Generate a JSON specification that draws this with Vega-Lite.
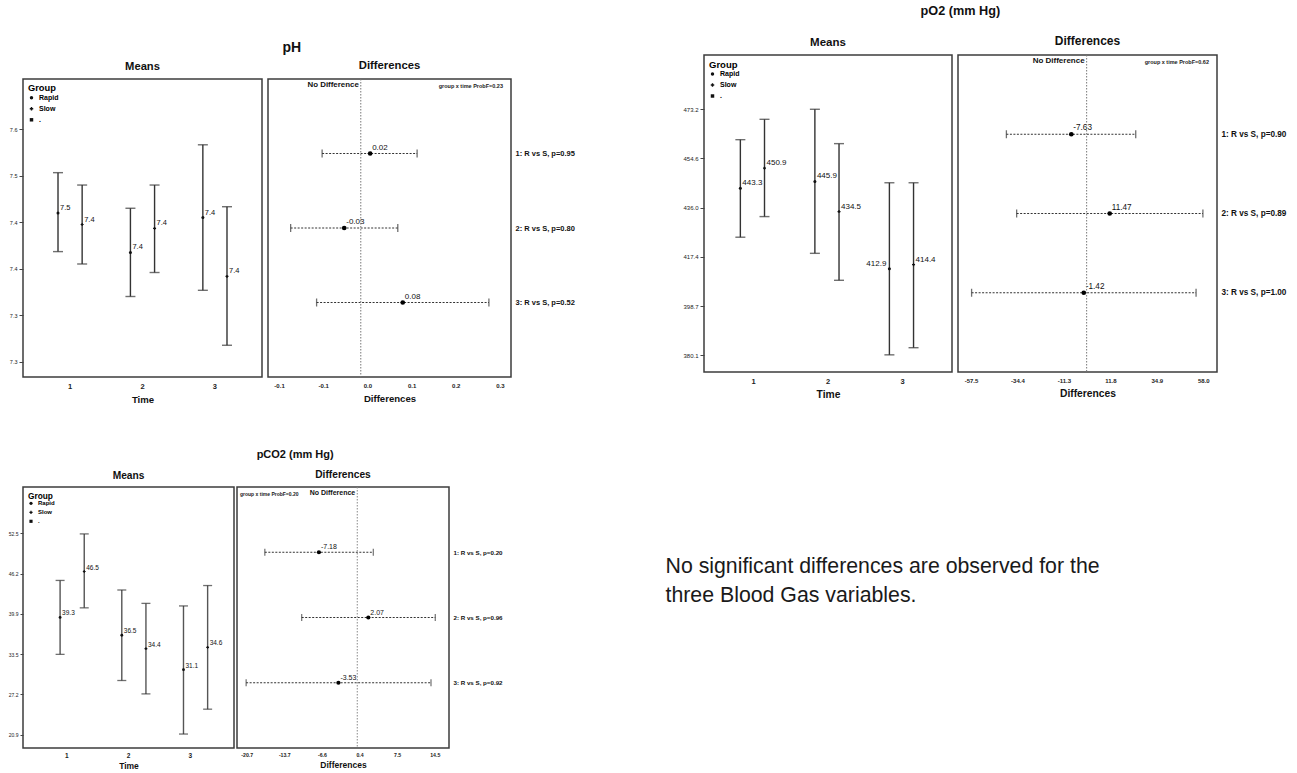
{
  "$schema": "https://vega.github.io/schema/vega-lite/v6.json",
  "padding": {"left": 7, "top": 5, "right": 0, "bottom": 0},
  "background": "white",
  "datasets": {
    "ph_means": [
      {"Time": 1, "Group": "Rapid", "mean": 7.452, "lower": 7.402, "upper": 7.504},
      {"Time": 1, "Group": "Slow", "mean": 7.437, "lower": 7.386, "upper": 7.488},
      {"Time": 2, "Group": "Rapid", "mean": 7.401, "lower": 7.344, "upper": 7.458},
      {"Time": 2, "Group": "Slow", "mean": 7.432, "lower": 7.375, "upper": 7.488},
      {"Time": 3, "Group": "Rapid", "mean": 7.446, "lower": 7.352, "upper": 7.54},
      {"Time": 3, "Group": "Slow", "mean": 7.37, "lower": 7.281, "upper": 7.46}
    ],
    "ph_diff": [
      {"Time": 1, "Comparison": "1: R vs S, p=0.95", "diff": 0.017, "lower": -0.07, "upper": 0.102},
      {"Time": 2, "Comparison": "2: R vs S, p=0.80", "diff": -0.03, "lower": -0.127, "upper": 0.067},
      {"Time": 3, "Comparison": "3: R vs S, p=0.52", "diff": 0.076, "lower": -0.08, "upper": 0.232}
    ],
    "po2_means": [
      {"Time": 1, "Group": "Rapid", "mean": 443.3, "lower": 424.8, "upper": 461.7},
      {"Time": 1, "Group": "Slow", "mean": 450.9, "lower": 432.6, "upper": 469.4},
      {"Time": 2, "Group": "Rapid", "mean": 445.9, "lower": 418.7, "upper": 473.2},
      {"Time": 2, "Group": "Slow", "mean": 434.5, "lower": 408.5, "upper": 460.2},
      {"Time": 3, "Group": "Rapid", "mean": 412.9, "lower": 380.3, "upper": 445.4},
      {"Time": 3, "Group": "Slow", "mean": 414.4, "lower": 383.0, "upper": 445.4}
    ],
    "po2_diff": [
      {"Time": 1, "Comparison": "1: R vs S, p=0.90", "diff": -7.63, "lower": -39.9, "upper": 24.4},
      {"Time": 2, "Comparison": "2: R vs S, p=0.89", "diff": 11.47, "lower": -34.8, "upper": 57.8},
      {"Time": 3, "Comparison": "3: R vs S, p=1.00", "diff": -1.42, "lower": -57.2, "upper": 54.4}
    ],
    "pco2_means": [
      {"Time": 1, "Group": "Rapid", "mean": 39.3, "lower": 33.5, "upper": 45.1},
      {"Time": 1, "Group": "Slow", "mean": 46.5, "lower": 40.8, "upper": 52.4},
      {"Time": 2, "Group": "Rapid", "mean": 36.5, "lower": 29.4, "upper": 43.6},
      {"Time": 2, "Group": "Slow", "mean": 34.4, "lower": 27.3, "upper": 41.5},
      {"Time": 3, "Group": "Rapid", "mean": 31.1, "lower": 21.0, "upper": 41.1},
      {"Time": 3, "Group": "Slow", "mean": 34.6, "lower": 24.9, "upper": 44.3}
    ],
    "pco2_diff": [
      {"Time": 1, "Comparison": "1: R vs S, p=0.20", "diff": -7.18, "lower": -17.3, "upper": 3.0},
      {"Time": 2, "Comparison": "2: R vs S, p=0.96", "diff": 2.07, "lower": -10.4, "upper": 14.6},
      {"Time": 3, "Comparison": "3: R vs S, p=0.92", "diff": -3.53, "lower": -20.8, "upper": 13.8}
    ]
  },
  "spacing": 43,
  "resolve": {"scale": {"shape": "independent"}, "legend": {"shape": "independent"}},
  "vconcat": [
    {
      "spacing": 106,
      "resolve": {"scale": {"shape": "independent"}, "legend": {"shape": "independent"}},
      "hconcat": [
        {
          "spacing": -15,
          "resolve": {"scale": {"shape": "independent"}, "legend": {"shape": "independent"}},
          "vconcat": [
            {"width": 1, "height": 1, "view": {"stroke": null}, "data": {"values": []}, "mark": "point"},
            {
              "title": {"text": "pH", "anchor": "middle", "fontSize": 14, "offset": 4},
              "spacing": 4,
              "resolve": {"scale": {"shape": "independent"}, "legend": {"shape": "independent"}},
              "hconcat": [
                {
                  "width": 239, "height": 298,
                  "title": {"text": "Means", "fontSize": 11.2, "frame": "group", "offset": 7},
                  "data": {"name": "ph_means"},
                  "encoding": {
                    "x": {"field": "Time", "type": "ordinal", "scale": {"paddingInner": 0, "paddingOuter": 0.15},
                      "axis": {"title": "Time", "labelAngle": 0, "ticks": false, "tickSize": 0, "labelFontSize": 7.5, "labelFontWeight": "bold", "labelPadding": 5, "titleFontSize": 9.6, "titleFontWeight": "bold", "titlePadding": 5}},
                    "xOffset": {"field": "Group", "type": "nominal", "scale": {"type": "point", "padding": 1.17, "domain": ["Rapid", "Slow"]}}
                  },
                  "layer": [
                    {"mark": {"type": "rule", "color": "#333", "strokeWidth": 1.4},
                      "encoding": {"y": {"field": "lower", "type": "quantitative", "scale": {"domain": [7.24, 7.625], "zero": false, "nice": false},
                        "axis": {"title": null, "values": [7.26, 7.32, 7.38, 7.44, 7.5, 7.56], "format": ".1f", "labelFontSize": 5.5, "tickSize": 4, "labelPadding": 2}},
                        "y2": {"field": "upper"}}},
                    {"mark": {"type": "tick", "color": "#333", "thickness": 1.4, "size": 10}, "encoding": {"y": {"field": "lower", "type": "quantitative"}}},
                    {"mark": {"type": "tick", "color": "#333", "thickness": 1.4, "size": 10}, "encoding": {"y": {"field": "upper", "type": "quantitative"}}},
                    {"mark": {"type": "point", "filled": true, "size": 9, "color": "#111", "opacity": 1},
                      "encoding": {"y": {"field": "mean", "type": "quantitative"},
                        "shape": {"field": "Group", "type": "nominal", "scale": {"domain": ["Rapid", "Slow", "."], "range": ["circle", "cross", "square"]},
                          "legend": {"title": "Group", "orient": "top-left", "offset": 5, "titleFontSize": 9.3, "titleFontWeight": "bold", "titlePadding": 1, "labelFontSize": 7, "labelFontWeight": "bold", "symbolSize": 12, "symbolStrokeWidth": 1, "rowPadding": 2, "padding": 0}}}},
                    {"mark": {"type": "text", "align": "left", "baseline": "middle", "dx": 2, "dy": -5, "fontSize": 7.5, "color": "#111"},
                      "encoding": {"y": {"field": "mean", "type": "quantitative"}, "text": {"field": "mean", "type": "quantitative", "format": ".1f"}}}
                  ]
                },
                {
                  "width": 243, "height": 298,
                  "title": {"text": "Differences", "fontSize": 11.3, "frame": "group", "offset": 7},
                  "resolve": {"scale": {"y": "independent"}},
                  "layer": [
                    {
                      "data": {"name": "ph_diff"},
                      "encoding": {"y": {"field": "Comparison", "type": "nominal", "scale": {"type": "point", "padding": 1.5},
                        "axis": {"orient": "right", "title": null, "ticks": false, "tickSize": 0, "labelFontSize": 7.5, "labelFontWeight": "bold", "labelPadding": 4, "labelColor": "#111"}}},
                      "layer": [
                        {"mark": {"type": "rule", "strokeDash": [2, 1.5], "color": "#333", "strokeWidth": 1},
                          "encoding": {"x": {"field": "lower", "type": "quantitative", "scale": {"domain": [-0.168, 0.272], "zero": false, "nice": false},
                            "axis": {"title": "Differences", "values": [-0.148, -0.068, 0.012, 0.092, 0.172, 0.252], "format": ".1f", "ticks": false, "tickSize": 0, "labelFontSize": 6, "labelFontWeight": "bold", "labelPadding": 5, "titleFontSize": 9.6, "titleFontWeight": "bold", "titlePadding": 5}},
                            "x2": {"field": "upper"}}},
                        {"mark": {"type": "tick", "color": "#333", "thickness": 1.3, "size": 8}, "encoding": {"x": {"field": "lower", "type": "quantitative"}}},
                        {"mark": {"type": "tick", "color": "#333", "thickness": 1.3, "size": 8}, "encoding": {"x": {"field": "upper", "type": "quantitative"}}},
                        {"mark": {"type": "point", "filled": true, "size": 22, "color": "#000", "opacity": 1}, "encoding": {"x": {"field": "diff", "type": "quantitative"}}},
                        {"mark": {"type": "text", "align": "left", "baseline": "middle", "dx": 2, "dy": -6, "fontSize": 8, "color": "#111"},
                          "encoding": {"x": {"field": "diff", "type": "quantitative"}, "text": {"field": "diff", "type": "quantitative", "format": ".2f"}}}
                      ]
                    },
                    {
                      "data": {"values": [{"label": "No Difference", "diff": 0}]},
                      "layer": [
                        {"mark": {"type": "rule", "strokeDash": [1.5, 1.5], "color": "#777", "strokeWidth": 1}, "encoding": {"x": {"field": "diff", "type": "quantitative"}}},
                        {"mark": {"type": "text", "align": "right", "baseline": "top", "dx": -2, "dy": 2, "fontSize": 7.9, "fontWeight": "bold", "color": "#111"},
                          "encoding": {"x": {"field": "diff", "type": "quantitative"}, "y": {"datum": 1, "type": "quantitative", "scale": {"domain": [0, 1]}, "axis": null}, "text": {"field": "label"}}}
                      ]
                    },
                    {
                      "data": {"values": [{"label": "group x time ProbF=0.23"}]},
                      "mark": {"type": "text", "align": "right", "baseline": "top", "dx": -8, "dy": 5, "fontSize": 5.5, "fontWeight": "bold", "color": "#222"},
                      "encoding": {"x": {"datum": 0.272, "type": "quantitative"}, "y": {"datum": 1, "type": "quantitative", "scale": {"domain": [0, 1]}, "axis": null}, "text": {"field": "label"}}
                    }
                  ]
                }
              ]
            }
          ]
        },
        {
          "title": {"text": "pO2 (mm Hg)", "anchor": "middle", "fontSize": 12.7, "offset": 16, "dx": -24},
          "spacing": 4,
          "resolve": {"scale": {"shape": "independent"}, "legend": {"shape": "independent"}},
          "hconcat": [
            {
              "width": 248, "height": 317,
              "title": {"text": "Means", "fontSize": 11.5, "frame": "group", "offset": 7},
              "data": {"name": "po2_means"},
              "encoding": {
                "x": {"field": "Time", "type": "ordinal", "scale": {"paddingInner": 0, "paddingOuter": 0.164},
                  "axis": {"title": "Time", "labelAngle": 0, "ticks": false, "tickSize": 0, "labelFontSize": 7.5, "labelFontWeight": "bold", "labelPadding": 5, "titleFontSize": 10.3, "titleFontWeight": "bold", "titlePadding": 5}},
                "xOffset": {"field": "Group", "type": "nominal", "scale": {"type": "point", "padding": 1.19, "domain": ["Rapid", "Slow"]}}
              },
              "layer": [
                {"mark": {"type": "rule", "color": "#333", "strokeWidth": 1.4},
                  "encoding": {"y": {"field": "lower", "type": "quantitative", "scale": {"domain": [373.81, 493.73], "zero": false, "nice": false},
                    "axis": {"title": null, "values": [380.13, 398.742, 417.354, 435.966, 454.578, 473.19], "format": ".1f", "labelFontSize": 6, "tickSize": 4, "labelPadding": 2}},
                    "y2": {"field": "upper"}}},
                {"mark": {"type": "tick", "color": "#333", "thickness": 1.4, "size": 10}, "encoding": {"y": {"field": "lower", "type": "quantitative"}}},
                {"mark": {"type": "tick", "color": "#333", "thickness": 1.4, "size": 10}, "encoding": {"y": {"field": "upper", "type": "quantitative"}}},
                {"mark": {"type": "point", "filled": true, "size": 9, "color": "#111", "opacity": 1},
                  "encoding": {"y": {"field": "mean", "type": "quantitative"},
                    "shape": {"field": "Group", "type": "nominal", "scale": {"domain": ["Rapid", "Slow", "."], "range": ["circle", "cross", "square"]},
                      "legend": {"title": "Group", "orient": "top-left", "offset": 5, "titleFontSize": 9.5, "titleFontWeight": "bold", "titlePadding": 1, "labelFontSize": 7, "labelFontWeight": "bold", "symbolSize": 12, "symbolStrokeWidth": 1, "rowPadding": 2, "padding": 0}}}},
                {"transform": [{"filter": "!(datum.Time == 3 && datum.Group == 'Rapid')"}],
                  "mark": {"type": "text", "align": "left", "baseline": "middle", "dx": 2, "dy": -5, "fontSize": 8, "color": "#111"},
                  "encoding": {"y": {"field": "mean", "type": "quantitative"}, "text": {"field": "mean", "type": "quantitative", "format": ".1f"}}},
                {"transform": [{"filter": "datum.Time == 3 && datum.Group == 'Rapid'"}],
                  "mark": {"type": "text", "align": "right", "baseline": "middle", "dx": -3, "dy": -5, "fontSize": 8, "color": "#111"},
                  "encoding": {"y": {"field": "mean", "type": "quantitative"}, "text": {"field": "mean", "type": "quantitative", "format": ".1f"}}}
              ]
            },
            {
              "width": 259, "height": 317,
              "title": {"text": "Differences", "fontSize": 12, "frame": "group", "offset": 7},
              "resolve": {"scale": {"y": "independent"}},
              "layer": [
                {
                  "data": {"name": "po2_diff"},
                  "encoding": {"y": {"field": "Comparison", "type": "nominal", "scale": {"type": "point", "padding": 1.5},
                    "axis": {"orient": "right", "title": null, "ticks": false, "tickSize": 0, "labelFontSize": 8.2, "labelFontWeight": "bold", "labelPadding": 4, "labelColor": "#111"}}},
                  "layer": [
                    {"mark": {"type": "rule", "strokeDash": [2, 1.5], "color": "#333", "strokeWidth": 1},
                      "encoding": {"x": {"field": "lower", "type": "quantitative", "scale": {"domain": [-63.96, 64.81], "zero": false, "nice": false},
                        "axis": {"title": "Differences", "values": [-57.5, -34.4, -11.3, 11.8, 34.9, 58.0], "format": ".1f", "ticks": false, "tickSize": 0, "labelFontSize": 6, "labelFontWeight": "bold", "labelPadding": 5, "titleFontSize": 10.3, "titleFontWeight": "bold", "titlePadding": 5}},
                        "x2": {"field": "upper"}}},
                    {"mark": {"type": "tick", "color": "#333", "thickness": 1.3, "size": 8}, "encoding": {"x": {"field": "lower", "type": "quantitative"}}},
                    {"mark": {"type": "tick", "color": "#333", "thickness": 1.3, "size": 8}, "encoding": {"x": {"field": "upper", "type": "quantitative"}}},
                    {"mark": {"type": "point", "filled": true, "size": 22, "color": "#000", "opacity": 1}, "encoding": {"x": {"field": "diff", "type": "quantitative"}}},
                    {"mark": {"type": "text", "align": "left", "baseline": "middle", "dx": 2, "dy": -6, "fontSize": 8.2, "color": "#111"},
                      "encoding": {"x": {"field": "diff", "type": "quantitative"}, "text": {"field": "diff", "type": "quantitative", "format": ".2f"}}}
                  ]
                },
                {
                  "data": {"values": [{"label": "No Difference", "diff": 0}]},
                  "layer": [
                    {"mark": {"type": "rule", "strokeDash": [1.5, 1.5], "color": "#777", "strokeWidth": 1}, "encoding": {"x": {"field": "diff", "type": "quantitative"}}},
                    {"mark": {"type": "text", "align": "right", "baseline": "top", "dx": -2, "dy": 2, "fontSize": 8, "fontWeight": "bold", "color": "#111"},
                      "encoding": {"x": {"field": "diff", "type": "quantitative"}, "y": {"datum": 1, "type": "quantitative", "scale": {"domain": [0, 1]}, "axis": null}, "text": {"field": "label"}}}
                  ]
                },
                {
                  "data": {"values": [{"label": "group x time ProbF=0.62"}]},
                  "mark": {"type": "text", "align": "right", "baseline": "top", "dx": -8, "dy": 5, "fontSize": 5.5, "fontWeight": "bold", "color": "#222"},
                  "encoding": {"x": {"datum": 64.81, "type": "quantitative"}, "y": {"datum": 1, "type": "quantitative", "scale": {"domain": [0, 1]}, "axis": null}, "text": {"field": "label"}}
                }
              ]
            }
          ]
        }
      ]
    },
    {
      "spacing": 162,
      "resolve": {"scale": {"shape": "independent"}, "legend": {"shape": "independent"}},
      "hconcat": [
        {
          "title": {"text": "pCO2 (mm Hg)", "anchor": "middle", "fontSize": 11, "offset": 10, "dx": 40},
          "spacing": 1,
          "resolve": {"scale": {"shape": "independent"}, "legend": {"shape": "independent"}},
          "hconcat": [
            {
              "width": 211, "height": 261,
              "title": {"text": "Means", "fontSize": 10.2, "frame": "group", "offset": 6},
              "data": {"name": "pco2_means"},
              "encoding": {
                "x": {"field": "Time", "type": "ordinal", "scale": {"paddingInner": 0, "paddingOuter": 0.21},
                  "axis": {"title": "Time", "labelAngle": 0, "ticks": false, "tickSize": 0, "labelFontSize": 6.5, "labelFontWeight": "bold", "labelPadding": 4, "titleFontSize": 8.5, "titleFontWeight": "bold", "titlePadding": 3}},
                "xOffset": {"field": "Group", "type": "nominal", "scale": {"type": "point", "padding": 1.16, "domain": ["Rapid", "Slow"]}}
              },
              "layer": [
                {"mark": {"type": "rule", "color": "#555", "strokeWidth": 1.4},
                  "encoding": {"y": {"field": "lower", "type": "quantitative", "scale": {"domain": [18.81, 59.76], "zero": false, "nice": false},
                    "axis": {"title": null, "values": [20.9, 27.22, 33.54, 39.86, 46.18, 52.5], "format": ".1f", "labelFontSize": 5, "tickSize": 3, "labelPadding": 2}},
                    "y2": {"field": "upper"}}},
                {"mark": {"type": "tick", "color": "#333", "thickness": 1.3, "size": 9}, "encoding": {"y": {"field": "lower", "type": "quantitative"}}},
                {"mark": {"type": "tick", "color": "#333", "thickness": 1.3, "size": 9}, "encoding": {"y": {"field": "upper", "type": "quantitative"}}},
                {"mark": {"type": "point", "filled": true, "size": 8, "color": "#111", "opacity": 1},
                  "encoding": {"y": {"field": "mean", "type": "quantitative"},
                    "shape": {"field": "Group", "type": "nominal", "scale": {"domain": ["Rapid", "Slow", "."], "range": ["circle", "cross", "square"]},
                      "legend": {"title": "Group", "orient": "top-left", "offset": 5, "titleFontSize": 8.3, "titleFontWeight": "bold", "titlePadding": 0, "labelFontSize": 6, "labelFontWeight": "bold", "symbolSize": 10, "symbolStrokeWidth": 1, "rowPadding": 1, "padding": 0}}}},
                {"mark": {"type": "text", "align": "left", "baseline": "middle", "dx": 2, "dy": -4, "fontSize": 6.5, "color": "#111"},
                  "encoding": {"y": {"field": "mean", "type": "quantitative"}, "text": {"field": "mean", "type": "quantitative", "format": ".1f"}}}
              ]
            },
            {
              "width": 212, "height": 261,
              "title": {"text": "Differences", "fontSize": 10.2, "frame": "group", "offset": 6},
              "resolve": {"scale": {"y": "independent"}},
              "layer": [
                {
                  "data": {"name": "pco2_diff"},
                  "encoding": {"y": {"field": "Comparison", "type": "nominal", "scale": {"type": "point", "padding": 1.5},
                    "axis": {"orient": "right", "title": null, "ticks": false, "tickSize": 0, "labelFontSize": 6.2, "labelFontWeight": "bold", "labelPadding": 4, "labelColor": "#111"}}},
                  "layer": [
                    {"mark": {"type": "rule", "strokeDash": [2, 1.5], "color": "#333", "strokeWidth": 1},
                      "encoding": {"x": {"field": "lower", "type": "quantitative", "scale": {"domain": [-22.51, 17.17], "zero": false, "nice": false},
                        "axis": {"title": "Differences", "values": [-20.7, -13.66, -6.62, 0.42, 7.46, 14.5], "format": ".1f", "ticks": false, "tickSize": 0, "labelFontSize": 5.2, "labelFontWeight": "bold", "labelPadding": 4, "titleFontSize": 8.5, "titleFontWeight": "bold", "titlePadding": 3}},
                        "x2": {"field": "upper"}}},
                    {"mark": {"type": "tick", "color": "#333", "thickness": 1.2, "size": 7}, "encoding": {"x": {"field": "lower", "type": "quantitative"}}},
                    {"mark": {"type": "tick", "color": "#333", "thickness": 1.2, "size": 7}, "encoding": {"x": {"field": "upper", "type": "quantitative"}}},
                    {"mark": {"type": "point", "filled": true, "size": 18, "color": "#000", "opacity": 1}, "encoding": {"x": {"field": "diff", "type": "quantitative"}}},
                    {"mark": {"type": "text", "align": "left", "baseline": "middle", "dx": 2, "dy": -5, "fontSize": 7, "color": "#111"},
                      "encoding": {"x": {"field": "diff", "type": "quantitative"}, "text": {"field": "diff", "type": "quantitative", "format": ".2f"}}}
                  ]
                },
                {
                  "data": {"values": [{"label": "No Difference", "diff": 0}]},
                  "layer": [
                    {"mark": {"type": "rule", "strokeDash": [1.5, 1.5], "color": "#888", "strokeWidth": 1}, "encoding": {"x": {"field": "diff", "type": "quantitative"}}},
                    {"mark": {"type": "text", "align": "right", "baseline": "top", "dx": -2, "dy": 2, "fontSize": 7, "fontWeight": "bold", "color": "#111"},
                      "encoding": {"x": {"field": "diff", "type": "quantitative"}, "y": {"datum": 1, "type": "quantitative", "scale": {"domain": [0, 1]}, "axis": null}, "text": {"field": "label"}}}
                  ]
                },
                {
                  "data": {"values": [{"label": "group x time ProbF=0.20"}]},
                  "mark": {"type": "text", "align": "left", "baseline": "top", "dx": 3, "dy": 5, "fontSize": 5, "fontWeight": "bold", "color": "#222"},
                  "encoding": {"x": {"datum": -22.51, "type": "quantitative"}, "y": {"datum": 1, "type": "quantitative", "scale": {"domain": [0, 1]}, "axis": null}, "text": {"field": "label"}}
                }
              ]
            }
          ]
        },
        {
          "width": 1, "height": 200,
          "view": {"stroke": null},
          "data": {"values": [
            {"line": 1, "text": "No significant differences are observed for the"},
            {"line": 2, "text": "three Blood Gas variables."}
          ]},
          "mark": {"type": "text", "align": "left", "baseline": "middle", "fontSize": 21.3, "font": "Liberation Sans", "color": "#1a1a1a"},
          "encoding": {
            "y": {"field": "line", "type": "quantitative", "scale": {"domain": [-1.759, 5.138], "reverse": true, "zero": false, "nice": false}, "axis": null},
            "text": {"field": "text"}
          }
        }
      ]
    }
  ],
  "config": {
    "font": "Liberation Sans",
    "locale": {"number": {"decimal": ".", "thousands": ",", "grouping": [3], "currency": ["$", ""], "minus": "-"}},
    "view": {"stroke": "#3c3c3c", "strokeWidth": 1.5},
    "axis": {"grid": false, "domain": false, "labelColor": "#222", "titleColor": "#111", "tickColor": "#444"},
    "title": {"color": "#111", "fontWeight": "bold"}
  }
}
